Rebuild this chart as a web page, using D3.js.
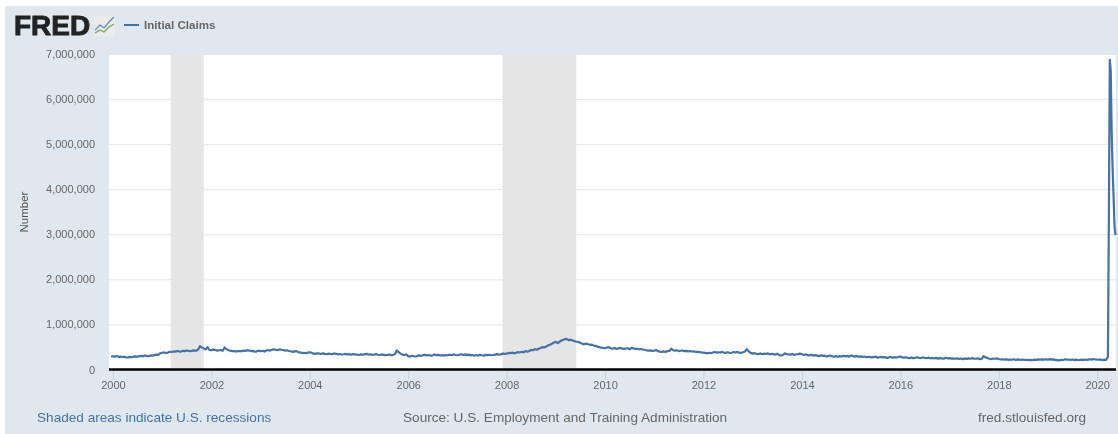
<!DOCTYPE html>
<html lang="en">
<head>
<meta charset="UTF-8">
<title>Initial Claims</title>
<script src="https://d3js.org/d3.v7.min.js"></script>
<style>
  html, body { margin: 0; padding: 0; background: #fff; }
  svg { display: block; font-family: "Liberation Sans", Arial, sans-serif; filter: blur(0.35px); }
  .tick text { fill: #666; font-size: 11px; }
</style>
</head>
<body>
<div id="chart-container"></div>
<script>
// Claims in thousands, roughly every two weeks through each year
const claims2000 = [292,285,298,281,287,276,283,270,266,279,272,285,291,283,296,304,298,310,302,295,312,306,318,329,322,358];
const claims2001 = [372,378,366,375,392,388,401,396,412,404,398,415,408,421,412,406,418,424,415,440,517,492,468,445,497,432];
const claims2002 = [428,441,436,418,427,432,415,488,452,428,419,405,412,398,407,411,403,420,414,428,421,408,415,396,402,418];
const claims2003 = [404,415,398,422,431,418,436,448,441,428,446,439,432,418,426,411,405,392,401,408,387,379,366,372,361,374];
const claims2004 = [382,371,352,346,361,355,342,358,347,339,352,344,341,356,349,335,345,331,338,346,334,341,328,344,336,329];
const claims2005 = [322,335,328,342,347,331,338,325,332,340,328,321,334,326,318,324,332,319,326,338,423,385,352,331,322,335];
const claims2006 = [298,287,306,294,288,302,312,305,318,325,311,322,305,314,332,318,324,311,319,305,322,315,329,318,335,322];
const claims2007 = [316,328,338,322,336,319,330,314,322,306,321,310,325,316,308,326,318,328,316,322,331,340,328,335,352,346];
const claims2008 = [352,368,362,374,358,372,385,378,394,382,408,395,412,436,428,452,438,462,478,497,488,512,535,548,572,598];
const claims2009 = [612,585,622,645,662,678,671,648,662,641,628,615,608,589,571,558,575,561,548,552,531,524,508,496,482,478];
const claims2010 = [472,488,496,471,462,478,456,468,482,462,458,466,472,449,482,468,456,462,448,455,443,438,426,418,425,412];
const claims2011 = [418,432,408,398,392,403,388,408,412,462,428,418,426,409,416,422,406,414,402,411,398,405,388,396,384,378];
const claims2012 = [376,368,358,372,362,378,388,374,382,376,392,368,374,382,366,372,388,378,392,372,368,382,398,452,402,368];
const claims2013 = [352,362,348,342,356,338,352,344,358,336,348,342,328,352,318,312,322,356,342,335,328,348,322,338,342,352];
const claims2014 = [338,322,335,318,312,328,305,318,308,296,316,302,308,285,298,312,292,286,298,282,296,288,306,292,302,285];
const claims2015 = [312,298,286,302,282,292,276,288,272,282,275,268,278,286,262,272,281,268,276,258,268,279,262,274,266,276];
const claims2016 = [288,268,262,271,258,252,268,248,262,272,258,254,266,258,251,264,248,256,244,258,241,252,246,238,262,248];
const claims2017 = [252,241,246,238,248,232,245,228,248,236,246,238,252,242,238,246,232,238,296,268,258,238,232,242,238,246];
const claims2018 = [232,221,228,218,226,214,222,216,228,212,224,218,214,222,212,216,208,214,206,218,214,224,218,226,220,228];
const claims2019 = [216,231,218,226,208,212,198,216,208,228,218,222,212,221,208,218,206,214,218,212,222,214,228,218,232,224];

// the first reading before 2000, and the weekly run-up at the end
const edgeDates = ["1999-12-18","2020-01-11","2020-01-25","2020-02-08","2020-02-22","2020-03-07","2020-03-21","2020-03-28","2020-04-04","2020-04-11","2020-04-18","2020-04-25","2020-05-02","2020-05-09","2020-05-16"];
const edgeClaims = [288,216,224,205,218,211,282,3310,6870,6620,5240,4440,3840,3170,2980];

const yearRows = [
  [2000, claims2000], [2001, claims2001], [2002, claims2002], [2003, claims2003], [2004, claims2004],
  [2005, claims2005], [2006, claims2006], [2007, claims2007], [2008, claims2008], [2009, claims2009],
  [2010, claims2010], [2011, claims2011], [2012, claims2012], [2013, claims2013], [2014, claims2014],
  [2015, claims2015], [2016, claims2016], [2017, claims2017], [2018, claims2018], [2019, claims2019]
];
const recessions = [["2001-03-05", "2001-11-05"], ["2007-12-01", "2009-06-01"]];
const yTicks = [0, 1000000, 2000000, 3000000, 4000000, 5000000, 6000000, 7000000];
const xTickYears = [2000, 2002, 2004, 2006, 2008, 2010, 2012, 2014, 2016, 2018, 2020];

const width = 1118, height = 434;
const plot = { left: 109, right: 1116, top: 54, bottom: 369.5 };
const parse = d3.utcParse("%Y-%m-%d");

const svg = d3.select("#chart-container").append("svg")
    .attr("width", width)
    .attr("height", height);

// panel background
svg.append("rect")
    .attr("x", 5).attr("y", 6)
    .attr("width", width - 5).attr("height", height - 6)
    .attr("fill", "#e0e8ef");

svg.append("rect")
    .attr("x", plot.left).attr("y", plot.top)
    .attr("width", plot.right - plot.left).attr("height", plot.bottom - plot.top)
    .attr("fill", "#fff");

const x = d3.scaleUtc()
    .domain([new Date(Date.UTC(1999, 11, 3)), new Date(Date.UTC(2020, 4, 20))])
    .range([plot.left, plot.right]);

const y = d3.scaleLinear()
    .domain([0, 7000000])
    .range([plot.bottom, plot.top]);

// recession bands
svg.selectAll(".recession")
    .data(recessions)
    .enter()
    .append("rect")
    .attr("class", "recession")
    .attr("x", d => x(parse(d[0])))
    .attr("y", plot.top)
    .attr("width", d => x(parse(d[1])) - x(parse(d[0])))
    .attr("height", plot.bottom - plot.top)
    .attr("fill", "#e5e5e5");

// y axis and gridlines
const yAxis = svg.append("g")
    .attr("transform", `translate(${plot.left},0)`)
    .call(d3.axisLeft(y).tickValues(yTicks).tickFormat(d3.format(",")).tickSize(0).tickPadding(14));
yAxis.select(".domain").remove();
yAxis.selectAll(".tick text").attr("dy", "0.32em");
yAxis.selectAll(".tick line")
    .attr("x2", plot.right - plot.left)
    .attr("stroke", d => d === 0 ? "none" : "#e6e6e6");

// x axis
const xAxis = svg.append("g")
    .attr("transform", `translate(0,${plot.bottom})`)
    .call(d3.axisBottom(x)
        .tickValues(xTickYears.map(yr => new Date(Date.UTC(yr, 0, 1))))
        .tickFormat(d3.utcFormat("%Y"))
        .tickSize(10)
        .tickPadding(2));
xAxis.select(".domain").remove();
xAxis.selectAll(".tick line").attr("stroke", "#c6d3e3");

// series: each year's readings spread evenly over that year
const points = [];
yearRows.forEach(([yr, values]) => {
    values.forEach((v, i) => {
        points.push({ date: d3.utcDay.offset(new Date(Date.UTC(yr, 0, 1)), i * 14), value: v * 1000 });
    });
});
edgeDates.forEach((d, i) => points.push({ date: parse(d), value: edgeClaims[i] * 1000 }));
points.sort((a, b) => a.date - b.date);

const line = d3.line()
    .x(d => x(d.date))
    .y(d => y(d.value));

svg.append("path")
    .datum(points)
    .attr("fill", "none")
    .attr("stroke", "#4572a7")
    .attr("stroke-width", 2.2)
    .attr("stroke-linejoin", "round")
    .attr("d", line);

// baseline
svg.append("line")
    .attr("x1", plot.left).attr("x2", plot.right)
    .attr("y1", plot.bottom).attr("y2", plot.bottom)
    .attr("stroke", "#000")
    .attr("stroke-width", 2.4);

// y title
svg.append("text")
    .attr("transform", "translate(28,212) rotate(-90)")
    .attr("text-anchor", "middle")
    .attr("font-size", 11.5)
    .attr("fill", "#555")
    .text("Number");

// FRED logo
svg.append("text")
    .attr("x", 14).attr("y", 35)
    .attr("font-size", 28)
    .attr("font-weight", "bold")
    .attr("fill", "#222")
    .attr("stroke", "#222")
    .attr("stroke-width", 0.9)
    .text("FRED");

svg.append("rect")
    .attr("x", 94).attr("y", 16)
    .attr("width", 21).attr("height", 20)
    .attr("fill", "#e9ecea");
svg.append("path")
    .attr("d", "M95,30L100,25L104,28L109,22L114,17")
    .attr("fill", "none").attr("stroke", "#5f8dbd").attr("stroke-width", 1.2);
svg.append("path")
    .attr("d", "M95,33L100,30L104,32L109,27L114,24")
    .attr("fill", "none").attr("stroke", "#7da654").attr("stroke-width", 1.2);

// legend
svg.append("line")
    .attr("x1", 124).attr("x2", 139)
    .attr("y1", 25).attr("y2", 25)
    .attr("stroke", "#4572a7")
    .attr("stroke-width", 2);
svg.append("text")
    .attr("x", 144).attr("y", 29)
    .attr("font-size", 11.6)
    .attr("font-weight", "bold")
    .attr("fill", "#666")
    .text("Initial Claims");

// footer
svg.append("text")
    .attr("x", 37).attr("y", 422)
    .attr("font-size", 13.6)
    .attr("fill", "#4572a7")
    .text("Shaded areas indicate U.S. recessions");
svg.append("text")
    .attr("x", 403).attr("y", 422)
    .attr("font-size", 13.6)
    .attr("fill", "#666")
    .text("Source: U.S. Employment and Training Administration");
svg.append("text")
    .attr("x", 978).attr("y", 422)
    .attr("font-size", 13.6)
    .attr("fill", "#666")
    .text("fred.stlouisfed.org");
</script>
</body>
</html>
